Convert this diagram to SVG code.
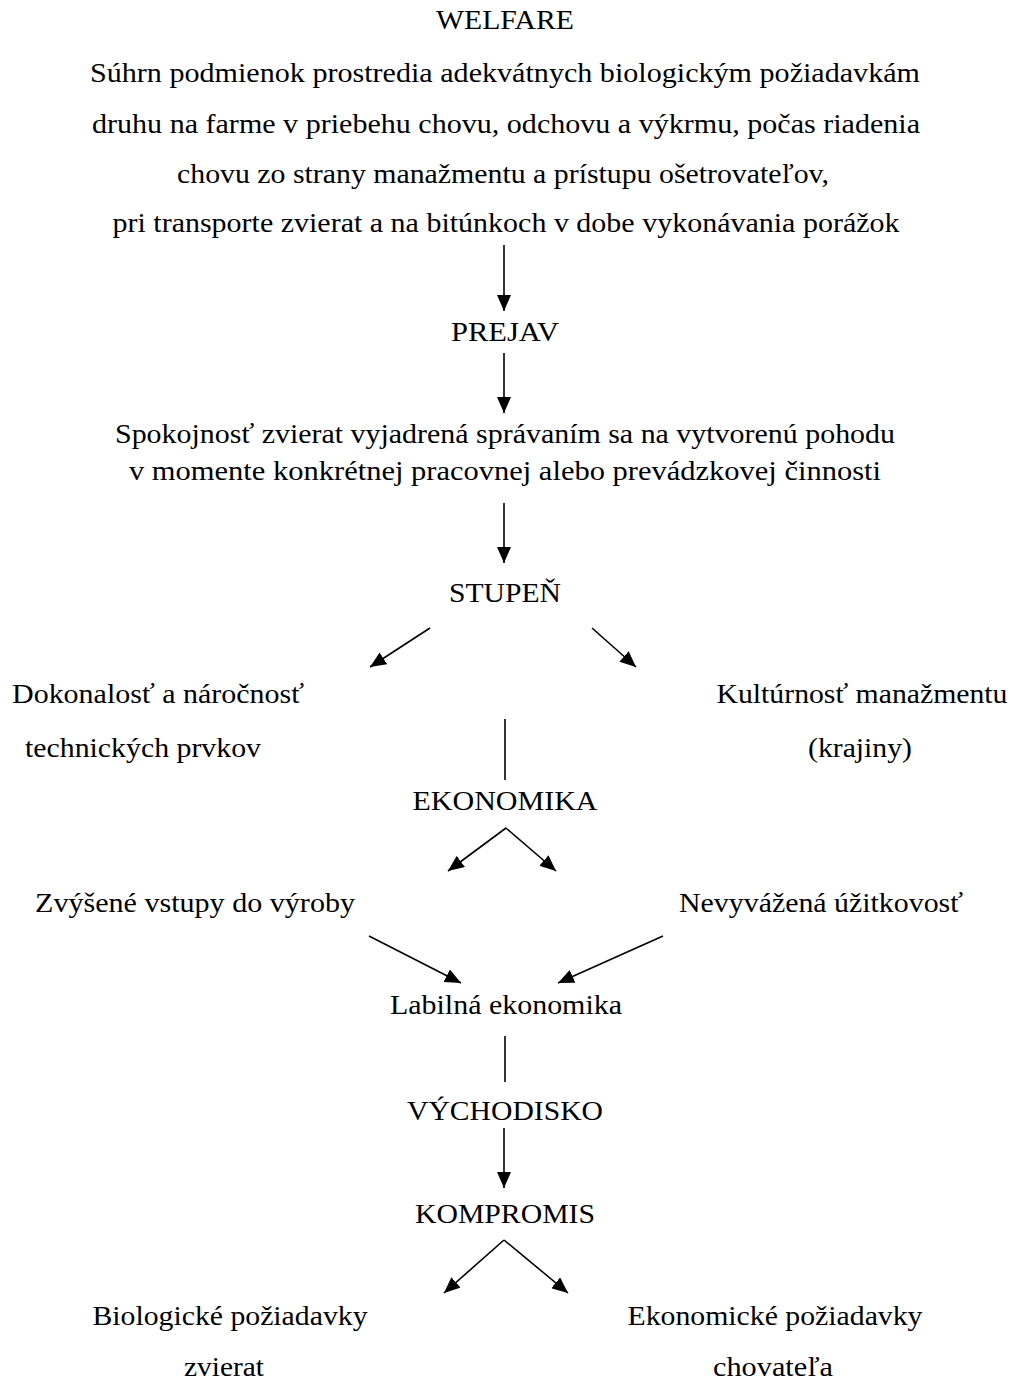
<svg xmlns="http://www.w3.org/2000/svg" width="1015" height="1383" viewBox="0 0 1015 1383">
<style>
text{font-family:"Liberation Serif","Times New Roman",serif;font-size:27px;fill:#000;text-anchor:middle}
.c{stroke:#000;stroke-width:1.6;fill:none}
.a{marker-end:url(#ah)}
</style>
<defs>
<marker id="ah" viewBox="0 0 16 14" refX="16" refY="7" markerWidth="16" markerHeight="14" markerUnits="userSpaceOnUse" orient="auto">
<path d="M0,0 L16,7 L0,14 z" fill="#000"/>
</marker>
</defs>
<rect width="1015" height="1383" fill="#fff"/>
<g id="welfare"><text x="505" y="29" textLength="138" lengthAdjust="spacingAndGlyphs">WELFARE</text></g>
<g id="definition">
<text x="505" y="82" textLength="830" lengthAdjust="spacingAndGlyphs">Súhrn podmienok prostredia adekvátnych biologickým požiadavkám</text>
<text x="506" y="133" textLength="828" lengthAdjust="spacingAndGlyphs">druhu na farme v priebehu chovu, odchovu a výkrmu, počas riadenia</text>
<text x="503" y="183" textLength="652" lengthAdjust="spacingAndGlyphs">chovu zo strany manažmentu a prístupu ošetrovateľov,</text>
<text x="506" y="232" textLength="787" lengthAdjust="spacingAndGlyphs">pri transporte zvierat a na bitúnkoch v dobe vykonávania porážok</text>
</g>
<g id="prejav"><text x="505" y="341" textLength="108" lengthAdjust="spacingAndGlyphs">PREJAV</text></g>
<g id="spokojnost">
<text x="505" y="443" textLength="780" lengthAdjust="spacingAndGlyphs">Spokojnosť zvierat vyjadrená správaním sa na vytvorenú pohodu</text>
<text x="505" y="480" textLength="752" lengthAdjust="spacingAndGlyphs">v momente konkrétnej pracovnej alebo prevádzkovej činnosti</text>
</g>
<g id="stupen"><text x="505" y="602" textLength="112" lengthAdjust="spacingAndGlyphs">STUPEŇ</text></g>
<g id="dokonalost">
<text x="158" y="703" textLength="292" lengthAdjust="spacingAndGlyphs">Dokonalosť a náročnosť</text>
<text x="143" y="757" textLength="236" lengthAdjust="spacingAndGlyphs">technických prvkov</text>
</g>
<g id="kulturnost">
<text x="862" y="703" textLength="291" lengthAdjust="spacingAndGlyphs">Kultúrnosť manažmentu</text>
<text x="860" y="757" textLength="104" lengthAdjust="spacingAndGlyphs">(krajiny)</text>
</g>
<g id="ekonomika"><text x="505" y="810" textLength="185" lengthAdjust="spacingAndGlyphs">EKONOMIKA</text></g>
<g id="vstupy"><text x="195" y="912" textLength="320" lengthAdjust="spacingAndGlyphs">Zvýšené vstupy do výroby</text></g>
<g id="uzitkovost"><text x="821" y="912" textLength="284" lengthAdjust="spacingAndGlyphs">Nevyvážená úžitkovosť</text></g>
<g id="labilna"><text x="506" y="1014" textLength="232" lengthAdjust="spacingAndGlyphs">Labilná ekonomika</text></g>
<g id="vychodisko"><text x="505" y="1120" textLength="196" lengthAdjust="spacingAndGlyphs">VÝCHODISKO</text></g>
<g id="kompromis"><text x="505" y="1223" textLength="180" lengthAdjust="spacingAndGlyphs">KOMPROMIS</text></g>
<g id="biologicke">
<text x="230" y="1325" textLength="275" lengthAdjust="spacingAndGlyphs">Biologické požiadavky</text>
<text x="224" y="1376" textLength="80" lengthAdjust="spacingAndGlyphs">zvierat</text>
</g>
<g id="ekonomicke">
<text x="775" y="1325" textLength="295" lengthAdjust="spacingAndGlyphs">Ekonomické požiadavky</text>
<text x="773" y="1376" textLength="120" lengthAdjust="spacingAndGlyphs">chovateľa</text>
</g>
<g id="connectors">
<line class="c a" x1="504" y1="245" x2="504" y2="311"/>
<line class="c a" x1="504" y1="353" x2="504" y2="413"/>
<line class="c a" x1="504" y1="503" x2="504" y2="563"/>
<line class="c a" x1="430" y1="628" x2="370" y2="667"/>
<line class="c a" x1="592" y1="628" x2="636" y2="667"/>
<line class="c" x1="505" y1="719" x2="505" y2="780"/>
<line class="c a" x1="506" y1="828" x2="448" y2="871"/>
<line class="c a" x1="506" y1="828" x2="556" y2="871"/>
<line class="c a" x1="369" y1="936" x2="461" y2="983"/>
<line class="c a" x1="663" y1="936" x2="558" y2="983"/>
<line class="c" x1="505" y1="1036" x2="505" y2="1082"/>
<line class="c a" x1="504" y1="1128" x2="504" y2="1188"/>
<line class="c a" x1="504" y1="1240" x2="444" y2="1293"/>
<line class="c a" x1="504" y1="1240" x2="568" y2="1293"/>
</g>
</svg>
